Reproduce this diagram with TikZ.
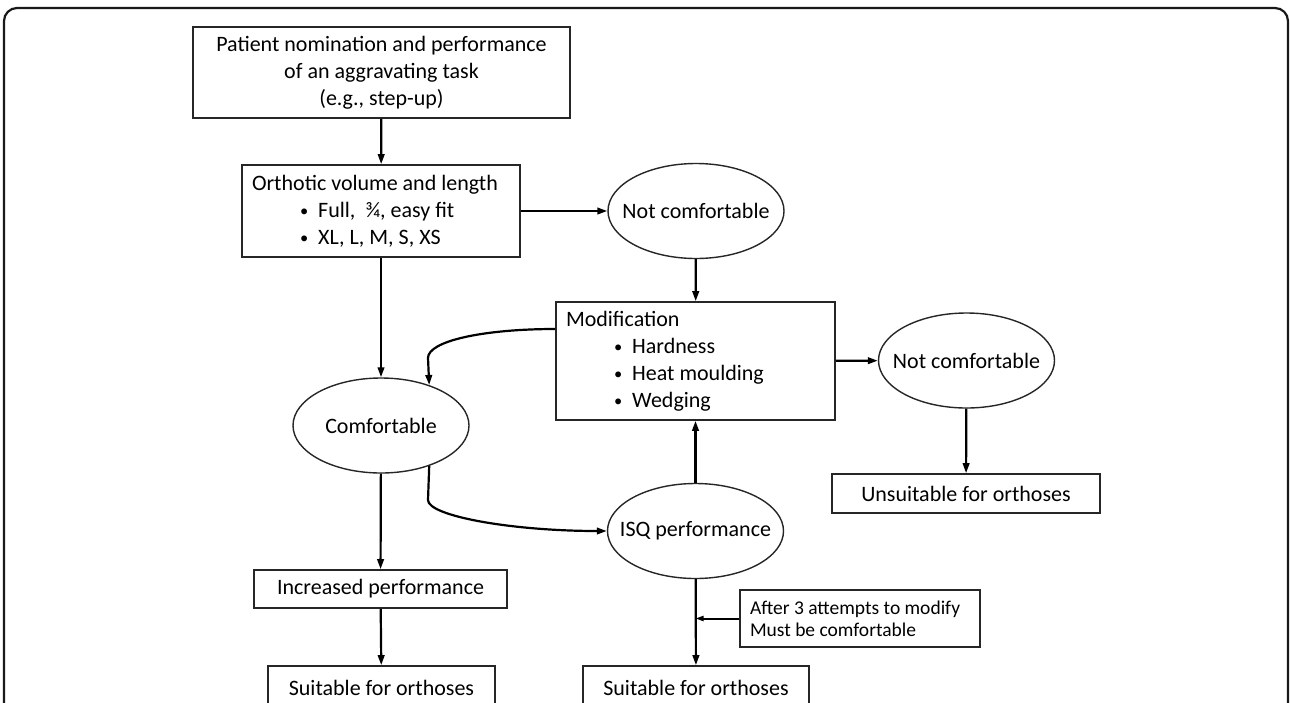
\documentclass[tikz,border=0pt]{standalone}
\usepackage{fontspec}
\setmainfont{Carlito}
\usetikzlibrary{arrows.meta,calc,positioning,shapes.geometric}
\newcommand{\flowitem}[1]{\hspace*{#1}\raisebox{1pt}{\scalebox{0.75}{\textbullet}}\hspace{10pt}}
\newcommand{\ovallabel}[1]{\makebox[0pt]{#1}}
\tikzset{
  flow box/.style={rectangle,draw=black!85,line width=1.6pt,inner sep=0pt,
    align=center,font=\fontsize{22}{27}\selectfont},
  flow list/.style={flow box,align=flush left,inner xsep=10pt},
  flow oval/.style={ellipse,draw=black!85,line width=1.4pt,inner sep=0pt,
    minimum width=176pt,minimum height=95pt,font=\fontsize{22}{27}\selectfont},
  flow note/.style={flow box,align=flush left,inner xsep=10pt,
    font=\fontsize{19.5}{22}\selectfont},
  flow edge/.style={-{Triangle[length=10pt,width=6.5pt]},line width=2.2pt},
  flow side edge/.style={-{Triangle[length=8pt,width=5pt]},line width=2pt}
}
\begin{document}
\begin{tikzpicture}[x=1pt,y=-1pt]
    \useasboundingbox (0,0) rectangle (1290,702);
    \clip (0,0) rectangle (1290,702);
    \draw[line width=2.2pt,black!90,rounded corners=13pt] (4,8) rectangle (1288,760);
    \node[flow box,minimum width=377pt,minimum height=91pt] (nominate) at (381.5,72.5)
      {Patient nomination and performance\\of an aggravating task\\(e.g., step-up)};
    \node[flow list,text width=258pt,minimum height=92pt] (volume) at (381,211)
      {Orthotic volume and length\\
       \flowitem{48pt}Full,\ \ ¾, easy fit\\
       \flowitem{48pt}XL, L, M, S, XS};
    \node[flow oval] (notcomfA) at (696,211) {\ovallabel{Not comfortable}};
    \node[flow list,text width=259pt,minimum height=118pt] (modify) at (695.5,361)
      {Modification\\
       \flowitem{48pt}Hardness\\
       \flowitem{48pt}Heat moulding\\
       \flowitem{48pt}Wedging};
    \node[flow oval] (notcomfB) at (966.5,360.5) {\ovallabel{Not comfortable}};
    \node[flow box,minimum width=268pt,minimum height=39pt] (unsuitable) at (966,493.5)
      {Unsuitable for orthoses};
    \node[flow oval] (comf) at (381,425.5) {\ovallabel{Comfortable}};
    \node[flow oval] (isq) at (695.5,531) {\ovallabel{ISQ performance}};
    \node[flow box,minimum width=253pt,minimum height=38pt] (increased) at (380.5,589)
      {Increased performance};
    \node[flow note,text width=220pt,minimum height=57pt] (attempts) at (860,618.5)
      {After 3 attempts to modify\\Must be comfortable};
    \node[flow box,minimum width=227pt,minimum height=44pt] (suitA) at (381.5,688)
      {Suitable for orthoses};
    \node[flow box,minimum width=226pt,minimum height=44pt] (suitB) at (696,688)
      {Suitable for orthoses};
    \coordinate (bendA) at (428,358);
    \coordinate (bendB) at (428,500);
    \coordinate (joinpt) at (isq.south |- attempts.west);
    \draw[flow edge] (nominate) -- (volume);
    \draw[flow edge] (volume) -- (notcomfA);
    \draw[flow edge] (notcomfA) -- (modify);
    \draw[flow edge] (modify) -- (notcomfB);
    \draw[flow edge] (notcomfB) -- (unsuitable);
    \draw[flow edge] (volume) -- (comf);
    \draw[flow edge] (comf) -- (increased);
    \draw[flow edge] (increased) -- (suitA);
    \draw[flow edge] (isq) -- (modify);
    \draw[flow edge] (isq) -- (suitB);
    \draw[flow side edge] (attempts.west) -- (joinpt);
    \draw[flow edge] ([yshift=32pt]modify.west) .. controls +(-72,0) and +(0,-17) .. (bendA)
      -- (comf.40);
    \draw[flow edge] (comf.-40) -- (bendB) .. controls +(0,16) and +(-95,0) .. (isq.west);
  \end{tikzpicture}
\end{document}
